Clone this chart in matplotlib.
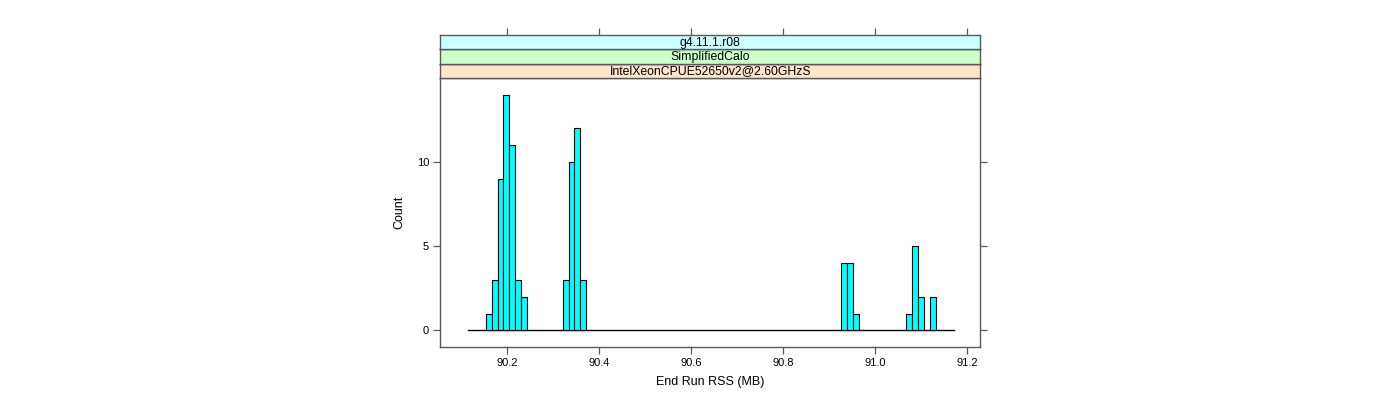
import matplotlib
matplotlib.use("Agg")
import matplotlib.pyplot as plt

plt.rcParams['font.family'] = ['Liberation Sans', 'DejaVu Sans']

# === Data ===
bin_width = 0.012868
bin_left = [90.1533, 90.1662, 90.1790, 90.1919, 90.2048, 90.2176, 90.2305,
            90.3206, 90.3335, 90.3463, 90.3592,
            90.9254, 90.9382, 90.9511,
            91.0669, 91.0798, 91.0927, 91.1184]
counts = [1, 3, 9, 14, 11, 3, 2,
          3, 10, 12, 3,
          4, 4, 1,
          1, 5, 2, 2]
baseline_range = [90.114, 91.171]
x_ticks = [90.2, 90.4, 90.6, 90.8, 91.0, 91.2]
y_ticks = [0, 5, 10]
strip_labels = ["g4.11.1.r08", "SimplifiedCalo", "IntelXeonCPUE52650v2@2.60GHzS"]
strip_colors = ["#ccffff", "#ccffcc", "#ffe5cc"]

W, H = 1400, 400
fig = plt.figure(figsize=(W / 100, H / 100), dpi=100)

# panel box in pixel coords
px_left, px_right = 440.3, 980.3
px_top, px_bottom = 78.0, 347.0
strip_h = 14.4

ax = fig.add_axes([px_left / W, 1 - px_bottom / H,
                   (px_right - px_left) / W, (px_bottom - px_top) / H])

ax.bar(bin_left, counts, width=bin_width, align='edge',
       color='#00ffff', edgecolor='black', linewidth=0.8, zorder=3)
ax.plot(baseline_range, [0, 0], color='black', linewidth=1.0, zorder=2)

ax.set_xlim(90.0546, 91.2285)
ax.set_ylim(-0.98, 14.98)
ax.set_xticks(x_ticks)
ax.set_xticklabels([f"{v:.1f}" for v in x_ticks])
ax.set_yticks(y_ticks)

axis_col = '0.35'
for s in ax.spines.values():
    s.set_color(axis_col)
    s.set_linewidth(1.0)
ax.tick_params(axis='both', direction='out', length=5, width=0.9, color=axis_col,
               labelsize=8, pad=3)
ax.tick_params(axis='y', right=True, labelright=False)

ax.set_xlabel("End Run RSS (MB)", fontsize=9, labelpad=6)
ax.set_ylabel("Count", fontsize=9, labelpad=8)

# strips above the panel
for i, (lab, col) in enumerate(zip(reversed(strip_labels), reversed(strip_colors))):
    y0 = px_top - (i + 1) * strip_h
    sax = fig.add_axes([px_left / W, 1 - (y0 + strip_h) / H,
                        (px_right - px_left) / W, strip_h / H])
    sax.set_facecolor(col)
    sax.set_xticks([])
    sax.set_yticks([])
    for s in sax.spines.values():
        s.set_color(axis_col)
        s.set_linewidth(1.0)
    sax.spines['top'].set_color('black')
    sax.text(0.5, 0.45, lab, ha='center', va='center', fontsize=8.8,
             transform=sax.transAxes)
    if i == len(strip_labels) - 1:
        # top axis ticks above the strips
        sax.set_xlim(ax.get_xlim())
        sax.set_xticks(x_ticks)
        sax.tick_params(axis='x', top=True, bottom=False, labeltop=False,
                        labelbottom=False, direction='out', length=5,
                        width=0.9, color=axis_col)
        sax.spines['top'].set_color(axis_col)

fig.savefig("out.png", dpi=100)
